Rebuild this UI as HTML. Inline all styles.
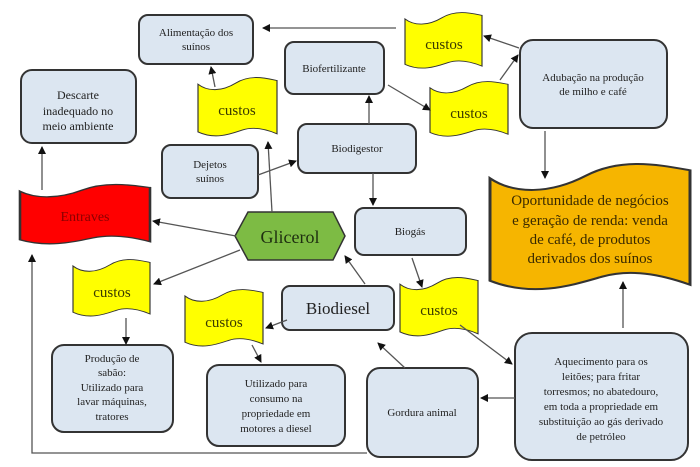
<!DOCTYPE html>
<html><head><meta charset="utf-8"><style>
html,body{margin:0;padding:0;background:#fff;}
svg{display:block;font-family:"Liberation Serif",serif;}
.b{fill:#dce6f1;stroke:#333;stroke-width:2;}
.t{font-size:11px;fill:#222;text-anchor:middle;}
.l{stroke:#555;stroke-width:1.3;fill:none;marker-end:url(#a);}
.c{font-size:15px;fill:#3a3a00;text-anchor:middle;}
</style></head><body>
<svg width="700" height="467" viewBox="0 0 700 467">
<defs>
<marker id="a" markerWidth="8" markerHeight="8" refX="7" refY="4" orient="auto" markerUnits="userSpaceOnUse">
<path d="M0,0 L8,4 L0,8 Z" fill="#111"/></marker>
<path id="f" d="M0,10 C12,22 30,22 48,8 S85,0 100,4 L100,90 C85,82 70,78 56,84 S22,100 0,87 Z"/>
</defs>

<rect class="b" x="139" y="15" width="114" height="49" rx="9"/>
<text class="t" x="196" y="36">Alimentação  dos</text><text class="t" x="196" y="50">suínos</text>

<rect class="b" x="21" y="70" width="115" height="73" rx="11"/>
<text class="t" x="78" y="99" style="font-size:12px">Descarte</text>
<text class="t" x="78" y="115" style="font-size:12px">inadequado no</text>
<text class="t" x="78" y="130" style="font-size:12px">meio ambiente</text>

<rect class="b" x="285" y="42" width="99" height="52" rx="9"/>
<text class="t" x="334" y="72">Biofertilizante</text>

<rect class="b" x="298" y="124" width="118" height="49" rx="9"/>
<text class="t" x="357" y="152">Biodigestor</text>

<rect class="b" x="162" y="145" width="96" height="53" rx="9"/>
<text class="t" x="210" y="168">Dejetos</text><text class="t" x="210" y="182">suínos</text>

<rect class="b" x="355" y="208" width="111" height="47" rx="9"/>
<text class="t" x="410" y="235">Biogás</text>

<rect class="b" x="520" y="40" width="147" height="88" rx="13"/>
<text class="t" x="593" y="81">Adubação  na produção</text><text class="t" x="593" y="95">de milho  e café</text>

<rect class="b" x="282" y="286" width="112" height="44" rx="8"/>
<text class="t" x="338" y="314" style="font-size:17px">Biodiesel</text>

<rect class="b" x="52" y="345" width="121" height="87" rx="12"/>
<text class="t" x="112" y="362">Produção de</text><text class="t" x="112" y="376">sabão:</text>
<text class="t" x="112" y="391">Utilizado  para</text><text class="t" x="112" y="405">lavar máquinas,</text>
<text class="t" x="112" y="420">tratores</text>

<rect class="b" x="207" y="365" width="138" height="81" rx="12"/>
<text class="t" x="276" y="387">Utilizado para</text><text class="t" x="276" y="402">consumo na</text>
<text class="t" x="276" y="417">propriedade  em</text><text class="t" x="276" y="432">motores a diesel</text>

<rect class="b" x="367" y="368" width="111" height="89" rx="13"/>
<text class="t" x="422" y="416">Gordura animal</text>

<rect class="b" x="515" y="333" width="173" height="127" rx="17"/>
<text class="t" x="601" y="365">Aquecimento  para os</text><text class="t" x="601" y="380">leitões; para fritar</text>
<text class="t" x="601" y="395">torresmos; no abatedouro,</text><text class="t" x="601" y="410">em toda a propriedade em</text>
<text class="t" x="601" y="425">substituição  ao gás derivado</text><text class="t" x="601" y="440">de petróleo</text>

<polygon points="248,212 333,212 345,236 333,260 248,260 235,236" fill="#7dbb44" stroke="#333" stroke-width="1.5"/>
<text x="290" y="243" text-anchor="middle" style="font-size:18px" fill="#1e2e10">Glicerol</text>

<use href="#f" transform="translate(20,185) scale(1.3,0.63)" fill="#ff0000" stroke="#333" style="stroke-width:2px"/>
<text x="85" y="221" text-anchor="middle" style="font-size:14px" fill="#8a0000">Entraves</text>

<use href="#f" transform="translate(490,165) scale(2,1.33)" fill="#f6b500" stroke="#333" style="stroke-width:1.5px"/>
<text x="590" y="205" text-anchor="middle" style="font-size:15px" fill="#3a2a00">Oportunidade de negócios</text>
<text x="590" y="225" text-anchor="middle" style="font-size:15px" fill="#3a2a00">e geração de renda: venda</text>
<text x="590" y="244" text-anchor="middle" style="font-size:15px" fill="#3a2a00">de café, de produtos</text>
<text x="590" y="263" text-anchor="middle" style="font-size:15px" fill="#3a2a00">derivados dos suínos</text>

<g fill="#ffff00" stroke="#333" style="stroke-width:1.5px">
<use href="#f" transform="translate(405,13) scale(0.77,0.59)"/>
<use href="#f" transform="translate(430,82) scale(0.78,0.58)"/>
<use href="#f" transform="translate(198,78) scale(0.79,0.62)"/>
<use href="#f" transform="translate(73,260) scale(0.77,0.6)"/>
<use href="#f" transform="translate(185,290) scale(0.78,0.6)"/>
<use href="#f" transform="translate(400,278) scale(0.78,0.62)"/>
</g>
<text class="c" x="444" y="49">custos</text>
<text class="c" x="469" y="118">custos</text>
<text class="c" x="237" y="115">custos</text>
<text class="c" x="112" y="297">custos</text>
<text class="c" x="224" y="327">custos</text>
<text class="c" x="439" y="315">custos</text>

<line class="l" x1="396" y1="28" x2="263" y2="28"/>
<line class="l" x1="519" y1="48" x2="484" y2="36"/>
<line class="l" x1="500" y1="80" x2="518" y2="55"/>
<line class="l" x1="388" y1="85" x2="430" y2="110"/>
<line class="l" x1="369" y1="124" x2="369" y2="96"/>
<line class="l" x1="373" y1="173" x2="373" y2="205"/>
<line class="l" x1="258" y1="175" x2="296" y2="161"/>
<line class="l" x1="215" y1="87" x2="211" y2="67"/>
<line class="l" x1="272" y1="212" x2="268" y2="142"/>
<line class="l" x1="236" y1="236" x2="153" y2="221"/>
<line class="l" x1="42" y1="190" x2="42" y2="147"/>
<line class="l" x1="240" y1="250" x2="154" y2="284"/>
<line class="l" x1="126" y1="318" x2="126" y2="344"/>
<line class="l" x1="287" y1="320" x2="266" y2="328"/>
<line class="l" x1="252" y1="345" x2="261" y2="362"/>
<line class="l" x1="412" y1="258" x2="422" y2="287"/>
<line class="l" x1="365" y1="284" x2="345" y2="256"/>
<line class="l" x1="460" y1="325" x2="512" y2="364"/>
<line class="l" x1="515" y1="398" x2="481" y2="398"/>
<line class="l" x1="405" y1="368" x2="378" y2="343"/>
<line class="l" x1="623" y1="328" x2="623" y2="282"/>
<line class="l" x1="545" y1="131" x2="545" y2="178"/>
<path class="l" d="M367,453 L32,453 L32,255"/>
</svg>
</body></html>
